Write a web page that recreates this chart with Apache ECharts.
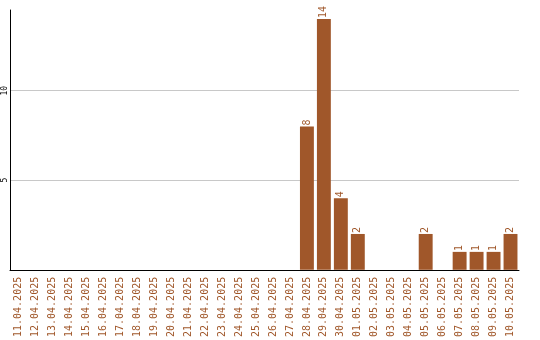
<!DOCTYPE html>
<html><head><meta charset="utf-8">
<script src="https://cdn.jsdelivr.net/npm/echarts@6/dist/echarts.min.js"></script>
<style>html,body{margin:0;padding:0;background:#fff}#c{width:540px;height:340px}</style>
</head><body><div id="c"></div>
<script>
const categories = ["11.04.2025","12.04.2025","13.04.2025","14.04.2025","15.04.2025","16.04.2025","17.04.2025","18.04.2025","19.04.2025","20.04.2025","21.04.2025","22.04.2025","23.04.2025","24.04.2025","25.04.2025","26.04.2025","27.04.2025","28.04.2025","29.04.2025","30.04.2025","01.05.2025","02.05.2025","03.05.2025","04.05.2025","05.05.2025","06.05.2025","07.05.2025","08.05.2025","09.05.2025","10.05.2025"];
const values = [null,null,null,null,null,null,null,null,null,null,null,null,null,null,null,null,null,8,14,4,2,null,null,null,2,null,1,1,1,2];
const yTicks = [5, 10];
const color = '#A0572A';
const font = '"DejaVu Sans Mono", monospace';
const chart = echarts.init(document.getElementById('c'));
chart.setOption({
  animation: false,
  grid: {left: 10, right: 21, top: 10, bottom: 70, containLabel: false},
  xAxis: {
    type: 'category', data: categories,
    axisLine: {lineStyle: {color: '#000', width: 1}},
    axisTick: {show: false},
    axisLabel: {rotate: 90, interval: 0, color: color, fontFamily: font, fontSize: 10, margin: 7}
  },
  yAxis: {
    type: 'value', min: 0, max: 14.5, interval: 5,
    axisLine: {show: true, lineStyle: {color: '#000', width: 1}},
    axisTick: {show: false},
    splitLine: {lineStyle: {color: ['#c8c8c8', '#c8c8c8', '#c8c8c8', 'rgba(0,0,0,0)'], width: 1}},
    axisLabel: {rotate: 90, color: '#000', fontFamily: font, fontSize: 8, margin: 1,
      formatter: v => yTicks.includes(v) ? String(v) : ''}
  },
  series: [{
    type: 'bar', data: values, barCategoryGap: '18%',
    itemStyle: {color: color},
    label: {show: true, position: 'top', rotate: 90, align: 'left', verticalAlign: 'middle',
      distance: 1, color: color, fontFamily: font, fontSize: 10}
  }]
});
</script></body></html>
